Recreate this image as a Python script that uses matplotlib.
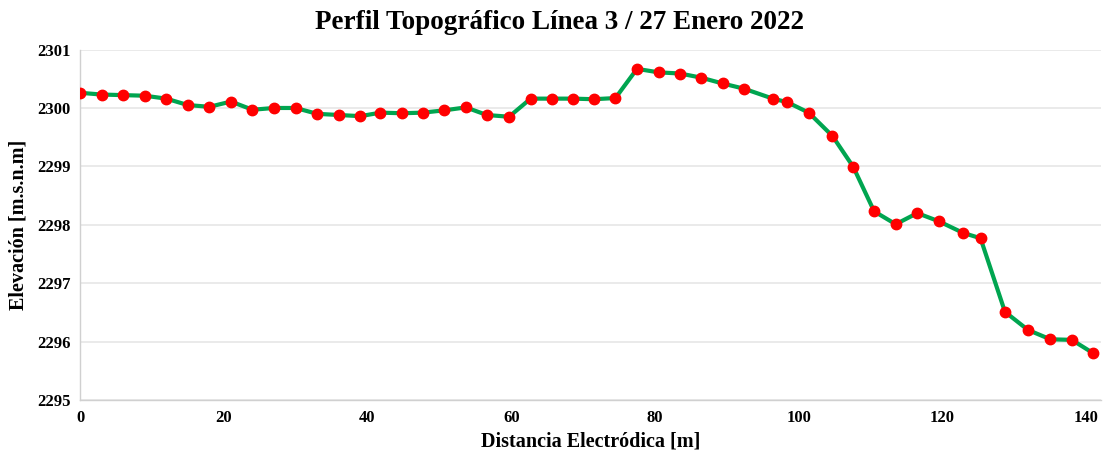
import matplotlib.pyplot as plt

# distancia a lo largo de la línea [m] y elevación [m.s.n.m]
distancia = [0, 3, 6, 9, 12, 15, 18, 21, 24, 27, 30, 33, 36, 39,
             41.8, 44.8, 47.7, 50.7, 53.7, 56.6, 59.7, 62.7, 65.7, 68.6, 71.5, 74.5,
             77.5, 80.5, 83.5, 86.4, 89.4, 92.4, 96.4, 98.4, 101.4, 104.7, 107.6,
             110.5, 113.5, 116.5, 119.5, 122.9, 125.3, 128.7, 131.9, 135.0, 138.0, 141.0]
elevacion = [2300.26, 2300.23, 2300.22, 2300.21, 2300.16, 2300.05, 2300.02, 2300.11,
             2299.97, 2300.00, 2300.00, 2299.90, 2299.88, 2299.86,
             2299.92, 2299.91, 2299.92, 2299.96, 2300.01, 2299.88, 2299.85, 2300.16,
             2300.16, 2300.16, 2300.15, 2300.17, 2300.67, 2300.61, 2300.59, 2300.52,
             2300.42, 2300.33, 2300.16, 2300.10, 2299.92, 2299.52, 2298.99,
             2298.23, 2298.01, 2298.20, 2298.06, 2297.86, 2297.77, 2296.51, 2296.20,
             2296.04, 2296.03, 2295.80]

x_ticks = [0, 20, 40, 60, 80, 100, 120, 140]
y_ticks = [2295, 2296, 2297, 2298, 2299, 2300, 2301]

plt.rcParams['font.family'] = ['Liberation Serif', 'DejaVu Serif']
plt.rcParams['font.weight'] = 'bold'

fig = plt.figure(figsize=(11.19, 4.59), dpi=100)
ax = fig.add_axes([0.0715, 0.1285, 0.912, 0.7635])

ax.plot(distancia, elevacion, color='#00a550', linewidth=3, solid_joinstyle='round',
        marker='o', markersize=7.5, markerfacecolor='#ff0000', markeredgecolor='#ff0000', zorder=3)

ax.set_xlim(0, 142)
ax.set_ylim(2295, 2301)
ax.set_xticks(x_ticks)
ax.set_yticks(y_ticks)
ax.tick_params(length=0, labelsize=12, pad=7)
for lbl in ax.get_xticklabels() + ax.get_yticklabels():
    lbl.set_fontweight('bold')

ax.grid(axis='y', color='#e6e6e6', linewidth=1.2)
ax.set_axisbelow(True)
for side in ['top', 'right']:
    ax.spines[side].set_visible(False)
for side in ['left', 'bottom']:
    ax.spines[side].set_color('#d0d0d0')
    ax.spines[side].set_linewidth(1)

fig.suptitle('Perfil Topográfico Línea 3 / 27 Enero 2022', fontsize=19.5, fontweight='bold',
             x=0.5, y=0.978)
ax.set_xlabel('Distancia Electródica [m]', fontsize=14.5, fontweight='bold', labelpad=4)
ax.set_ylabel('Elevación [m.s.n.m]', fontsize=14.5, fontweight='bold', labelpad=6)

fig.savefig('out.png', dpi=100)
